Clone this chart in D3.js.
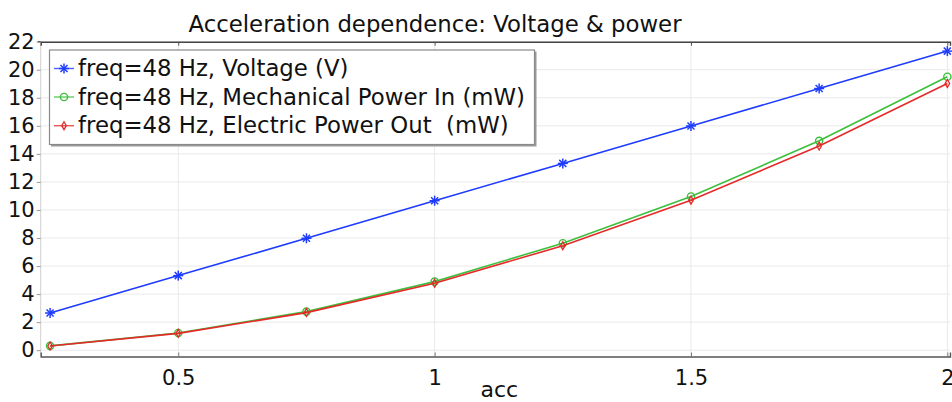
<!DOCTYPE html>
<html>
<head>
<meta charset="utf-8">
<script src="https://cdn.jsdelivr.net/npm/d3@7/dist/d3.min.js"></script>
<style>
  html, body { margin: 0; padding: 0; background: #fff; }
  svg { display: block; font-family: "DejaVu Sans", sans-serif; }
</style>
</head>
<body>
<svg id="chart" width="952" height="402"></svg>
<script>
// ---- data ----
const acc = [0.25, 0.5, 0.75, 1.0, 1.25, 1.5, 1.75, 2.0];
const voltage = [2.65, 5.32, 7.98, 10.66, 13.32, 15.99, 18.66, 21.33];
const mechPower = [0.31, 1.23, 2.75, 4.89, 7.63, 10.96, 14.93, 19.5];
const elecPower = [0.30, 1.20, 2.68, 4.77, 7.45, 10.7, 14.56, 19.02];
const seriesNames = [
  "freq=48 Hz, Voltage (V)",
  "freq=48 Hz, Mechanical Power In (mW)",
  "freq=48 Hz, Electric Power Out  (mW)"
];
const xTicks = [0.5, 1, 1.5, 2];
const yTicks = [0, 2, 4, 6, 8, 10, 12, 14, 16, 18, 20, 22];
const titleText = "Acceleration dependence: Voltage & power";
const xLabel = "acc";

// ---- layout ----
const svg = d3.select("#chart");
const L = 40.7, R = 950, T = 41.7, B = 356.5;
const x = d3.scaleLinear().domain([0.2317, 2.0052]).range([L, R]);
const y = d3.scaleLinear().domain([-0.45, 22]).range([B, T]);

const colors = ["#1e3cff", "#3cbf3c", "#e52a2a"];
const series = [voltage, mechPower, elecPower];
const shapes = ["star", "circle", "diamond"];

// grid
const grid = svg.append("g");
grid.selectAll("line.h").data(yTicks).join("line")
  .attr("x1", L).attr("x2", R)
  .attr("y1", d => y(d)).attr("y2", d => y(d))
  .attr("stroke", "#e9e9e9").attr("stroke-width", 1);
grid.selectAll("line.v").data(xTicks).join("line")
  .attr("x1", d => x(d)).attr("x2", d => x(d))
  .attr("y1", T).attr("y2", B)
  .attr("stroke", "#e9e9e9").attr("stroke-width", 1);

// left light axis line
svg.append("line").attr("x1", L).attr("x2", L).attr("y1", T).attr("y2", B)
  .attr("stroke", "#d0d0d0").attr("stroke-width", 1);

// bottom axis
const xAxis = d3.axisBottom(x).tickValues(xTicks).tickFormat(d3.format("")).tickSize(-4).tickPadding(14);
const gx = svg.append("g").attr("transform", `translate(0,${B})`).call(xAxis);
gx.select(".domain").attr("stroke", "#555").attr("stroke-width", 1.4);
gx.selectAll(".tick line").attr("stroke", "#777");
gx.selectAll(".tick text").attr("font-size", 21).attr("fill", "#111")
  .attr("font-family", "DejaVu Sans");

// top frame
const xTop = d3.axisTop(x).tickValues(xTicks).tickFormat("").tickSize(-4);
const gt = svg.append("g").attr("transform", `translate(0,${T})`).call(xTop);
gt.select(".domain").attr("stroke", "#444").attr("stroke-width", 1.4);
gt.selectAll(".tick line").attr("stroke", "#555");
svg.append("line").attr("x1", L - 3).attr("x2", L).attr("y1", T).attr("y2", T)
  .attr("stroke", "#444").attr("stroke-width", 1.4);

// left axis
const yAxis = d3.axisLeft(y).tickValues(yTicks).tickSize(4).tickPadding(2);
const gy = svg.append("g").attr("transform", `translate(${L},0)`).call(yAxis);
gy.select(".domain").remove();
gy.selectAll(".tick line").attr("stroke", "#999");
gy.selectAll(".tick text").attr("font-size", 21).attr("fill", "#111")
  .attr("font-family", "DejaVu Sans");

// title and axis label
svg.append("text").attr("x", 435).attr("y", 32).attr("text-anchor", "middle")
  .attr("font-size", 22.8).attr("fill", "#111").text(titleText);
svg.append("text").attr("x", (L + R) / 2 + 4).attr("y", 397).attr("text-anchor", "middle")
  .attr("font-size", 22).attr("fill", "#111").text(xLabel);

// marker drawing
function drawMarker(g, shape, color, cx, cy) {
  if (shape === "star") {
    const r = 5;
    for (let k = 0; k < 4; k++) {
      const a = k * Math.PI / 4;
      g.append("line")
        .attr("x1", cx - r * Math.cos(a)).attr("y1", cy - r * Math.sin(a))
        .attr("x2", cx + r * Math.cos(a)).attr("y2", cy + r * Math.sin(a))
        .attr("stroke", color).attr("stroke-width", 1.5);
    }
  } else if (shape === "circle") {
    g.append("circle").attr("cx", cx).attr("cy", cy).attr("r", 3.6)
      .attr("fill", "none").attr("stroke", color).attr("stroke-width", 1.4);
  } else {
    g.append("path")
      .attr("d", d3.symbol().type(d3.symbolDiamond).size(18)())
      .attr("transform", `translate(${cx},${cy})`)
      .attr("fill", "none").attr("stroke", color).attr("stroke-width", 1.3);
  }
}

// series
const line = d3.line().x((d, i) => x(acc[i])).y(d => y(d));
series.forEach((vals, s) => {
  const g = svg.append("g");
  g.append("path").datum(vals).attr("d", line)
    .attr("fill", "none").attr("stroke", colors[s]).attr("stroke-width", 1.6);
  vals.forEach((v, i) => drawMarker(g, shapes[s], colors[s], x(acc[i]), y(v)));
});

// legend
const lg = svg.append("g");
lg.append("rect").attr("x", 51).attr("y", 51.5).attr("width", 485.5).attr("height", 95)
  .attr("fill", "#999");
lg.append("rect").attr("x", 49.5).attr("y", 50).attr("width", 485).attr("height", 94.5)
  .attr("fill", "#fff").attr("stroke", "#8a8a8a").attr("stroke-width", 1.2);
const rowY = [68.5, 97, 125.7];
seriesNames.forEach((name, s) => {
  const ry = rowY[s];
  lg.append("line").attr("x1", 54).attr("x2", 74).attr("y1", ry).attr("y2", ry)
    .attr("stroke", colors[s]).attr("stroke-width", 1.4).attr("opacity", 0.8);
  drawMarker(lg, shapes[s], colors[s], 64, ry);
  lg.append("text").attr("x", 78).attr("y", ry + 7.5).attr("font-size", 22.8)
    .attr("fill", "#111").attr("xml:space", "preserve").style("white-space", "pre").text(name);
});
</script>
</body>
</html>
